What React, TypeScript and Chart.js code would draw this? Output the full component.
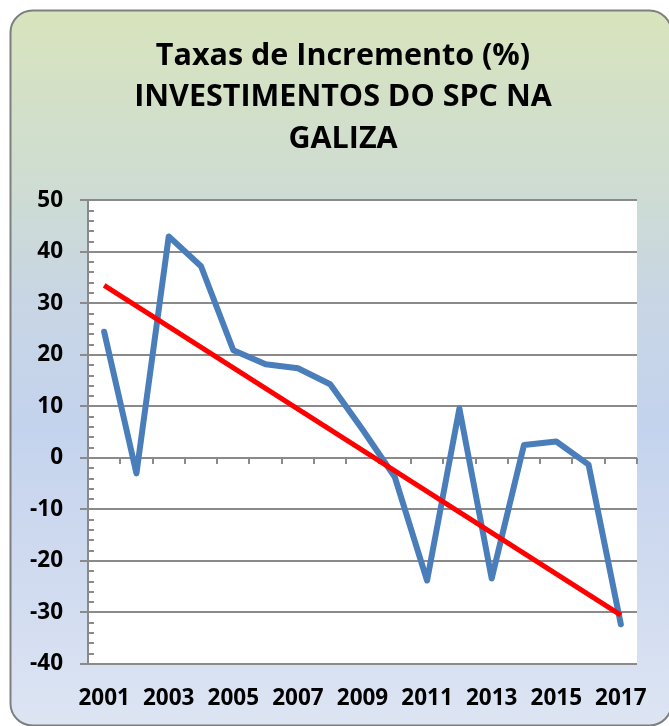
import React, { useEffect, useRef } from 'react';
import { Chart, registerables } from 'chart.js';

Chart.register(...registerables);

const years: string[] = [
  '2001', '2002', '2003', '2004', '2005', '2006', '2007', '2008', '2009',
  '2010', '2011', '2012', '2013', '2014', '2015', '2016', '2017',
];

const increments: number[] = [
  24.5, -3.0, 43.0, 37.2, 20.9, 18.2, 17.4, 14.3, 5.5,
  -3.7, -23.8, 9.6, -23.4, 2.5, 3.2, -1.3, -32.3,
];

const trendStart = 33.5;
const trendEnd = -30.5;

const yMin = -40;
const yMax = 50;
const yMajorStep = 10;
const yMinorStep = 2;

const titleLines: string[] = ['Taxas de Incremento (%)', 'INVESTIMENTOS DO SPC NA', 'GALIZA'];

const FONT = '"Open Sans", Lato, "DejaVu Sans", sans-serif';
const GRID = '#8a8a8a';

const backgroundPlugin = {
  id: 'bgPanel',
  beforeDraw(chart: any) {
    const { ctx, chartArea } = chart;
    ctx.save();
    const x = 10.5, y = 10.5, w = 661, h = 715, r = 22;
    const g = ctx.createLinearGradient(0, y, 0, y + h);
    g.addColorStop(0, '#d8e4bc');
    g.addColorStop(0.25, '#cedcd3');
    g.addColorStop(0.4, '#c8d6e4');
    g.addColorStop(0.58, '#c4d3ed');
    g.addColorStop(0.82, '#d2dcf0');
    g.addColorStop(1, '#dde5f3');
    ctx.beginPath();
    ctx.moveTo(x + r, y);
    ctx.lineTo(x + w - r, y);
    ctx.arcTo(x + w, y, x + w, y + r, r);
    ctx.lineTo(x + w, y + h - r);
    ctx.arcTo(x + w, y + h, x + w - r, y + h, r);
    ctx.lineTo(x + r, y + h);
    ctx.arcTo(x, y + h, x, y + h - r, r);
    ctx.lineTo(x, y + r);
    ctx.arcTo(x, y, x + r, y, r);
    ctx.closePath();
    ctx.fillStyle = g;
    ctx.fill();
    ctx.lineWidth = 2;
    ctx.strokeStyle = '#7f7f7f';
    ctx.stroke();
    ctx.fillStyle = '#ffffff';
    ctx.fillRect(chartArea.left, chartArea.top, chartArea.right - chartArea.left, chartArea.bottom - chartArea.top);
    ctx.restore();
  },
};

export default function App() {
  const ref = useRef<HTMLCanvasElement | null>(null);

  useEffect(() => {
    if (!ref.current) return;
    const last = years.length - 1;
    const trend = years.map((_, i) => (i === 0 ? trendStart : i === last ? trendEnd : null));
    const chart = new Chart(ref.current, {
      type: 'line',
      data: {
        labels: years,
        datasets: [
          {
            label: 'Tendencia',
            data: trend,
            borderColor: '#ff0000',
            borderWidth: 5,
            pointRadius: 0,
            spanGaps: true,
            fill: false,
            order: 0,
            xAxisID: 'x',
            yAxisID: 'y',
          },
          {
            label: 'Taxas de Incremento',
            data: increments,
            borderColor: '#4a7ebb',
            borderWidth: 6,
            pointRadius: 0,
            borderJoinStyle: 'round',
            borderCapStyle: 'round',
            fill: false,
            tension: 0,
            order: 1,
            xAxisID: 'x',
            yAxisID: 'y',
          },
        ],
      },
      options: {
        responsive: false,
        animation: false,
        layout: { padding: { left: 17, right: 0, top: 0, bottom: 0 } },
        plugins: {
          legend: { display: false },
          tooltip: { enabled: false },
          title: {
            display: true,
            text: titleLines,
            color: '#000000',
            font: { family: FONT, size: 30.5, weight: 'bold', lineHeight: 1.37 },
            padding: { top: 35, bottom: 40 },
          },
        },
        scales: {
          x: {
            type: 'category',
            position: 'bottom',
            offset: true,
            grid: { display: false, drawTicks: false, offset: true },
            border: { display: false },
            ticks: {
              autoSkip: false,
              maxRotation: 0,
              padding: 21,
              color: '#000000',
              font: { family: FONT, size: 22.5, weight: 'bold' },
              callback: (_v: any, i: number) => (i % 2 === 0 ? years[i] : ''),
            },
            afterFit: (s: any) => { s.height = 62; },
          },
          x2: {
            type: 'category',
            axis: 'x',
            position: { y: 0 },
            offset: true,
            grid: { offset: true, drawOnChartArea: false, drawTicks: true, tickLength: 6, color: GRID, lineWidth: 2 },
            border: { display: false },
            ticks: { display: false, autoSkip: false },
          },
          y: {
            type: 'linear',
            position: 'left',
            min: yMin,
            max: yMax,
            grid: { color: GRID, lineWidth: 2, tickLength: 8 },
            border: { display: true, color: GRID, width: 2 },
            ticks: {
              stepSize: yMajorStep,
              padding: 17,
              color: '#000000',
              font: { family: FONT, size: 22.5, weight: 'bold' },
            },
            afterFit: (s: any) => { s.width = 71; },
          },
          y2: {
            type: 'linear',
            axis: 'y',
            position: { x: -0.5 },
            min: yMin,
            max: yMax,
            grid: { drawOnChartArea: false, drawTicks: true, tickLength: -6, color: GRID, lineWidth: 2 },
            border: { display: false },
            ticks: { display: false, stepSize: yMinorStep },
          },
          yRight: {
            type: 'linear',
            axis: 'y',
            position: 'right',
            min: yMin,
            max: yMax,
            grid: { display: false, drawTicks: false },
            border: { display: false },
            ticks: { display: false },
            afterFit: (s: any) => { s.width = 32; },
          },
        },
      },
      plugins: [backgroundPlugin],
    } as any);
    return () => chart.destroy();
  }, []);

  return (
    <div style={{ position: 'absolute', left: 0, top: 0, width: 669, height: 726 }}>
      <canvas ref={ref} width={669} height={726} style={{ display: 'block' }} />
    </div>
  );
}
